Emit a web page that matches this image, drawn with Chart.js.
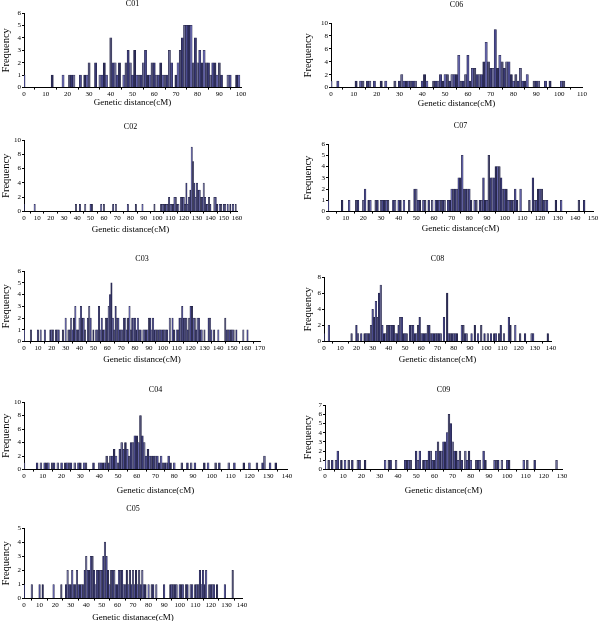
<!DOCTYPE html>
<html>
<head>
<meta charset="utf-8">
<script src="https://cdn.jsdelivr.net/npm/chart.js@4"></script>
<style>
  html, body { margin: 0; padding: 0; background: #fff; width: 600px; height: 621px; overflow: hidden; }
  canvas { position: absolute; }
</style>
</head>
<body>
<script>
// -- THE DATA -- [position in cM, number of markers]

const c01 = [[0,1],[13,1],[18,1],[21,1],[22,1],[23,1],[26,1],[28,1],[29,1],[30,2],[33,2],[35,1],[36,1],[37,2],[38,1],
  [40,4],[41,2],[42,2],[43,1],[44,2],[46,1],[47,2],[48,3],[49,2],[50,1],[51,3],[52,1],[53,1],[54,1],[55,2],[56,3],
  [57,1],[58,1],[59,2],[60,2],[61,1],[62,1],[63,2],[64,1],[65,1],[66,1],[67,3],[68,2],[70,1],[71,2],[72,3],[73,4],
  [74,5],[75,5],[76,5],[77,5],[78,2],[79,4],[80,2],[81,3],[82,2],[83,3],[84,2],[85,2],[86,1],[87,2],[88,2],[89,1],
  [90,2],[91,1],[94,1],[95,1],[98,1],[99,1]];

const c02 = [[0,1],[8,1],[39,1],[42,1],[46,1],[50,1],[51,1],[58,1],[60,1],[67,1],[69,1],[78,1],[84,1],[89,1],[98,1],
  [103,1],[104,1],[105,1],[106,1],[107,1],[108,1],[109,2],[110,1],[111,1],[112,1],[113,2],[114,2],[115,1],[116,1],
  [118,2],[119,2],[120,2],[121,1],[122,4],[123,1],[124,2],[125,3],[126,9],[127,7],[128,4],[129,2],[130,4],[131,3],
  [132,3],[133,2],[134,2],[135,4],[136,2],[137,1],[138,1],[139,2],[140,1],[143,2],[144,2],[145,1],[147,1],[148,1],
  [150,1],[151,1],[153,1],[155,1],[157,1],[159,1]];

const c03 = [[0,1],[5,1],[10,1],[12,1],[15,1],[19,1],[20,1],[21,1],[23,1],[24,1],[25,1],[28,1],[30,2],[32,1],[33,1],
  [34,2],[35,1],[36,2],[37,3],[38,1],[39,1],[40,2],[41,3],[42,2],[43,2],[44,1],[46,2],[47,3],[48,2],[50,1],[52,1],
  [53,1],[54,3],[55,1],[56,2],[57,1],[58,1],[59,2],[60,2],[61,3],[62,4],[63,5],[64,2],[65,1],[66,3],[67,2],[68,2],
  [69,1],[70,1],[71,1],[72,2],[73,2],[74,1],[75,2],[76,3],[77,1],[78,2],[79,2],[80,2],[81,1],[82,2],[83,1],[84,1],
  [86,1],[87,1],[88,1],[89,1],[90,2],[91,2],[92,1],[93,2],[94,1],[95,1],[96,1],[97,1],[98,1],[99,1],[100,1],[101,1],
  [102,1],[103,1],[105,2],[107,2],[108,1],[110,1],[111,1],[112,2],[113,2],[114,3],[115,2],[116,2],[117,2],[118,1],
  [119,2],[120,3],[121,3],[122,2],[123,2],[124,1],[125,2],[126,2],[127,1],[128,1],[130,1],[133,2],[134,2],[135,1],
  [137,1],[140,1],[145,2],[146,1],[147,1],[148,1],[149,1],[150,1],[151,1],[153,1],[158,1],[161,1]];

const c04 = [[0,1],[7,1],[9,1],[11,1],[12,1],[13,1],[15,1],[16,1],[18,1],[20,1],[22,1],[23,1],[24,1],[25,1],[27,1],
  [29,1],[30,1],[32,1],[33,1],[37,1],[40,1],[41,1],[42,1],[43,1],[44,2],[45,1],[46,2],[47,2],[48,3],[49,2],[50,1],
  [51,3],[52,4],[53,3],[54,4],[55,3],[56,2],[57,4],[58,4],[59,5],[60,5],[61,4],[62,8],[63,5],[64,4],[65,2],[66,3],
  [67,2],[68,2],[69,2],[70,2],[71,2],[72,1],[73,2],[74,1],[75,1],[76,1],[77,2],[78,1],[80,1],[84,1],[87,1],[89,1],
  [91,1],[96,1],[98,1],[102,1],[104,1],[109,1],[112,1],[117,1],[120,1],[124,1],[127,1],[128,2],[131,1],[134,1]];

const c05 = [[0,1],[5,1],[10,1],[12,1],[19,1],[24,1],[27,1],[28,2],[29,1],[30,1],[31,2],[32,1],[33,1],[34,2],[35,1],
  [36,1],[37,1],[38,1],[39,2],[40,3],[41,2],[42,2],[43,3],[44,3],[45,2],[46,1],[47,2],[48,2],[49,2],[50,2],[51,3],
  [52,4],[53,3],[54,2],[55,1],[56,2],[57,2],[58,2],[59,1],[60,1],[61,2],[62,2],[63,2],[64,1],[65,1],[66,2],[67,1],
  [68,2],[69,1],[70,2],[71,1],[72,2],[73,1],[74,2],[75,1],[76,2],[77,1],[78,1],[80,1],[82,1],[83,1],[85,1],[90,1],
  [94,1],[95,1],[96,1],[97,1],[98,1],[100,1],[101,1],[102,1],[104,1],[105,1],[107,1],[108,1],[110,1],[111,1],[112,1],
  [113,2],[114,1],[115,2],[116,1],[117,2],[119,1],[120,1],[121,1],[122,1],[124,1],[129,1],[134,2]];

const c06 = [[0,1],[3,1],[11,1],[13,1],[14,1],[16,1],[17,1],[19,1],[22,1],[24,1],[28,1],[30,1],[31,2],[32,1],[33,1],
  [34,1],[35,1],[36,1],[37,1],[40,1],[41,2],[42,1],[45,1],[46,1],[47,1],[48,2],[49,1],[50,2],[51,2],[52,1],[53,2],
  [54,2],[55,2],[56,5],[57,1],[58,1],[59,2],[60,5],[61,1],[62,3],[63,3],[64,2],[65,2],[66,2],[67,4],[68,7],[69,4],
  [70,3],[71,3],[72,9],[73,3],[74,5],[75,4],[76,3],[77,4],[78,4],[79,2],[80,1],[81,2],[82,1],[83,3],[84,1],[85,1],
  [86,2],[89,1],[90,1],[91,1],[94,1],[96,1],[101,1],[102,1]];

const c07 = [[0,1],[8,1],[12,1],[16,1],[17,1],[20,1],[21,2],[23,1],[24,1],[27,1],[28,1],[30,1],[31,1],[32,1],[33,1],
  [34,1],[37,1],[38,1],[40,1],[41,1],[43,1],[46,1],[49,2],[50,2],[51,1],[52,1],[54,1],[55,1],[57,1],[59,1],[61,1],
  [62,1],[63,1],[64,1],[65,1],[66,1],[68,1],[69,1],[70,2],[71,2],[72,2],[73,2],[74,3],[75,3],[76,5],[77,2],[78,2],
  [79,2],[80,2],[81,1],[83,1],[84,1],[86,1],[87,1],[88,3],[89,1],[90,1],[91,5],[92,3],[93,3],[94,3],[95,4],[96,4],
  [97,4],[98,3],[99,2],[100,2],[101,2],[102,1],[103,1],[104,1],[105,1],[106,2],[107,1],[109,2],[114,1],[116,3],
  [117,1],[118,1],[119,2],[120,2],[121,2],[122,1],[123,1],[124,1],[129,1],[132,1],[142,1],[145,1]];

const c08 = [[0,1],[3,2],[17,1],[20,2],[21,1],[23,1],[25,1],[26,1],[27,1],[28,1],[29,2],[30,4],[31,3],[32,5],[33,3],
  [34,6],[35,7],[36,2],[37,1],[38,1],[39,2],[40,2],[41,2],[42,2],[43,2],[44,1],[45,1],[46,2],[47,3],[48,3],[49,1],
  [50,1],[51,1],[53,2],[54,2],[55,2],[56,1],[57,1],[58,2],[59,3],[60,1],[61,1],[62,1],[63,1],[64,2],[65,2],[66,1],
  [67,1],[68,1],[69,1],[70,1],[71,1],[72,1],[74,3],[76,6],[77,1],[78,1],[79,1],[80,1],[81,1],[82,1],[85,2],[86,2],
  [87,1],[88,1],[91,1],[93,2],[95,1],[97,2],[99,1],[101,1],[103,1],[105,1],[106,1],[108,1],[109,2],[111,1],[114,3],
  [115,2],[118,2],[121,1],[124,1],[128,1],[129,1],[138,1]];

const c09 = [[0,1],[2,1],[4,1],[6,1],[7,2],[9,1],[11,1],[13,1],[15,1],[18,1],[19,1],[22,1],[33,1],[35,1],[36,1],
  [39,1],[44,1],[45,1],[46,1],[47,1],[50,2],[51,1],[52,2],[54,1],[55,1],[56,1],[57,2],[58,2],[59,1],[60,1],[61,2],
  [62,3],[63,2],[64,2],[65,3],[66,3],[67,4],[68,6],[69,5],[70,3],[71,2],[72,2],[73,1],[74,2],[75,1],[77,2],[78,1],
  [79,2],[80,1],[83,1],[84,1],[85,1],[87,2],[88,1],[93,1],[94,1],[95,1],[97,1],[100,1],[101,1],[109,1],[111,1],
  [115,1],[127,1]];

const groupNames = ['C01', 'C02', 'C03', 'C04', 'C05', 'C06', 'C07', 'C08', 'C09'];
const groupData = [c01, c02, c03, c04, c05, c06, c07, c08, c09];
const xMax = [100, 160, 170, 140, 140, 110, 150, 140, 130];
const yMax = [6, 10, 6, 10, 5, 10, 6, 8, 7];
const yStep = [1, 2, 1, 2, 1, 2, 1, 2, 1];
const xTitles = ['Genetic distance(cM)', 'Genetic distance(cM)', 'Genetic distance(cM)', 'Genetic distance(cM)',
  'Genetic distanace(cM)', 'Genetic distance(cM)', 'Genetic distance(cM)', 'Genetic distance(cM)', 'Genetic distance(cM)'];

// -- LAYOUT -- [canvas left, title y, plot left, plot right, plot top, plot bottom, x title y]

const boxes = [
  [0, 4, 24, 241, 13, 87, 102],
  [0, 127, 24, 237, 140, 211, 229],
  [0, 259, 24, 260, 271, 341, 359],
  [0, 390, 24, 287, 402, 469, 490],
  [0, 509, 24, 242, 528, 598, 617],
  [300, 5, 331, 582, 23, 87, 103],
  [300, 126, 328, 593, 144, 211, 228],
  [300, 259, 324, 551, 277, 341, 359],
  [300, 390, 325, 562, 405, 469, 490]
];

const serif = 'Liberation Serif';
const fills = ['#4a4a8e', '#2c2c58', '#6262a6', '#4e4e72', '#383874', '#6a6a94'];

groupNames.forEach((name, i) => {
  const [L, titleY, pL, pR, pT, pB, xtY] = boxes[i];
  const T = Math.round(titleY - 4.8);
  const xAxisH = xtY + 5.4 - pB;
  const cv = document.createElement('canvas');
  cv.width = pR - L + 8;
  cv.height = Math.ceil(pB - T + xAxisH);
  cv.style.left = L + 'px';
  cv.style.top = T + 'px';
  document.body.appendChild(cv);

  new Chart(cv, {
    type: 'bar',
    data: {
      datasets: [{
        data: groupData[i].map(p => ({x: p[0], y: p[1]})),
        backgroundColor: ctx => fills[(ctx.dataIndex * 7 + i) % fills.length],
        borderColor: '#222240',
        borderWidth: 0.5,
        categoryPercentage: 1,
        barPercentage: 1
      }]
    },
    options: {
      responsive: false,
      animation: false,
      layout: {padding: {left: 0, right: 8, top: 0, bottom: 0}},
      plugins: {
        legend: {display: false},
        tooltip: {enabled: false},
        title: {
          display: true, text: name, fullSize: false, color: '#000',
          font: {family: serif, size: 8, weight: 'normal'},
          padding: {top: 0, bottom: pT - T - 9.6}
        }
      },
      scales: {
        x: {
          type: 'linear', min: 0, max: xMax[i], offset: false,
          afterFit: s => { s.height = xAxisH; },
          ticks: {stepSize: 10, color: '#000', padding: 0, maxRotation: 0, autoSkip: false,
                  font: {family: serif, size: 7}},
          grid: {drawOnChartArea: false, tickLength: 2, color: '#000'},
          border: {color: '#000'},
          title: {display: true, text: xTitles[i], color: '#000',
                  font: {family: serif, size: 9}, padding: {top: 0, bottom: 0}}
        },
        y: {
          min: 0, max: yMax[i],
          afterFit: s => { s.width = pL - L; },
          ticks: {stepSize: yStep[i], autoSkip: false, color: '#000', padding: 1,
                  font: {family: serif, size: 7}},
          grid: {drawOnChartArea: false, tickLength: 2, color: '#000'},
          border: {color: '#000'},
          title: {display: true, text: 'Frequency', color: '#000',
                  font: {family: serif, size: 10.5}, padding: {top: L ? 2 : 0, bottom: 0}}
        }
      }
    }
  });
});
</script>
</body>
</html>
